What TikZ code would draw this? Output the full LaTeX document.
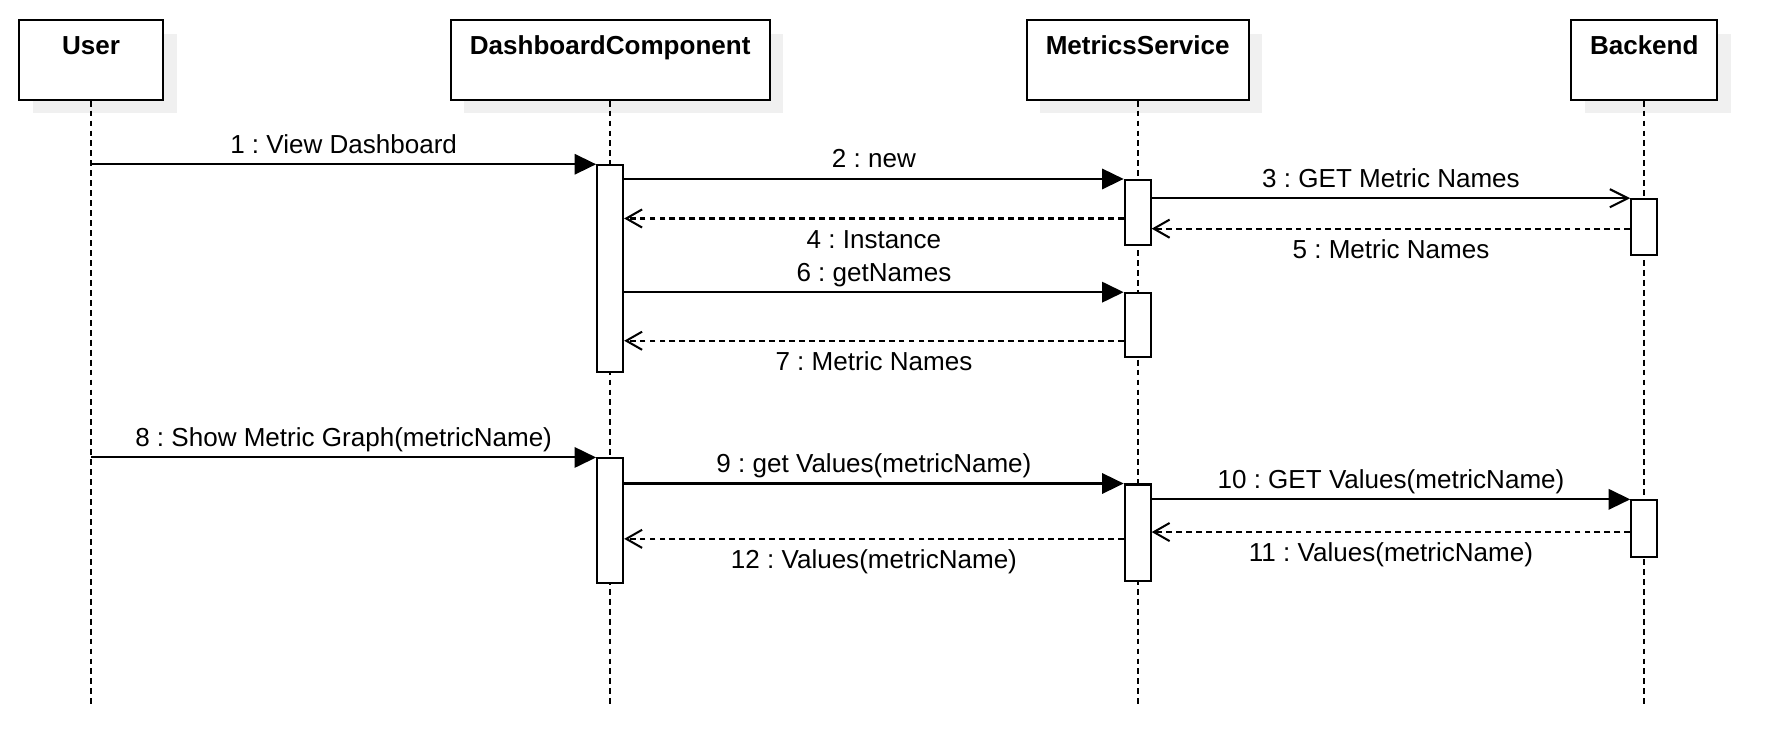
\documentclass[tikz,border=0pt]{standalone}
\usepackage{fontspec}
\setmainfont{Liberation Sans}
\usetikzlibrary{arrows.meta,positioning}
\frenchspacing

\tikzset{
  actor/.style={draw,fill=white,line width=.9pt,minimum height=35pt,inner sep=0pt,
    preaction={fill=black!6,transform canvas={shift={(6pt,-6pt)}}}},
  title/.style={font=\fontsize{11.5}{13.8}\selectfont\bfseries,inner sep=0pt,text height=8.5pt,text depth=2.5pt},
  lifeline/.style={line width=.9pt,dash pattern=on 2.6pt off 1.8pt},
  act/.style={draw,fill=white,line width=.9pt,minimum width=11.5pt,inner sep=0pt},
  call/.style={line width=.9pt,-{Triangle[length=9.5pt,width=9pt]}},
  callopen/.style={line width=.9pt,-{Straight Barb[length=8pt,width=8pt]}},
  reply/.style={line width=.9pt,dash pattern=on 2.6pt off 1.8pt,-{Straight Barb[length=7pt,width=8pt]}},
  lblup/.style={midway,above=1.9pt,inner sep=0pt,text height=8.5pt,text depth=2.5pt},
  lbldown/.style={midway,below=4.1pt,inner sep=0pt,text height=8.5pt,text depth=2.5pt}
}

\begin{document}
\begin{tikzpicture}[x=0.5pt,y=-0.5pt,font=\fontsize{11.5}{13.8}\selectfont]
  \useasboundingbox (0,0) rectangle (1568,659);

  % participants
  \foreach \n/\x/\w/\t in {user/80.5/63.5/User,dash/539/141/DashboardComponent,
                           metr/1005/98/MetricsService,back/1452.5/64.5/Backend}{
    \node[actor,minimum width=\w pt] (\n) at (\x,53) {};
    \node[title,below=7pt of \n.north] (\n-t) {\t};
  }
  \foreach \n in {user,dash,metr,back}
    \draw[lifeline] (\n.south) -- (\n.south |- 0,625);

  % activations
  \node[act,minimum height=91.5pt] (a1) at (539,237.5) {};
  \node[act,minimum height=28.5pt] (m1) at (1005,187.5) {};
  \node[act,minimum height=24.5pt] (b1) at (1452.5,200.5) {};
  \node[act,minimum height=28pt] (m2) at (1005,287) {};
  \node[act,minimum height=55pt] (a2) at (539,460) {};
  \node[act,minimum height=42.5pt] (m3) at (1005,470.5) {};
  \node[act,minimum height=25pt] (b2) at (1452.5,467) {};

  % messages
  \draw[call] (user.south |- a1.north) -- (a1.north west) node[lblup] {1 : View Dashboard};
  \draw[call] (a1.east |- m1.north) -- (m1.north west) node[lblup] {2 : new};
  \draw[callopen] (m1.east |- b1.north) -- (b1.north west) node[lblup] {3 : GET Metric Names};
  \draw[reply] (m1.west |- 0,193) -- (a1.east |- 0,193) node[lbldown] {4 : Instance};
  \draw[reply] (b1.west |- 0,202) -- (m1.east |- 0,202) node[lbldown] {5 : Metric Names};
  \draw[call] (a1.east |- m2.north) -- (m2.north west) node[lblup] {6 : getNames};
  \draw[reply] (m2.west |- 0,301) -- (a1.east |- 0,301) node[lbldown] {7 : Metric Names};

  \draw[call] (user.south |- a2.north) -- (a2.north west) node[lblup] {8 : Show Metric Graph(metricName)};
  \draw[call] (a2.east |- m3.north) -- (m3.north west) node[lblup] {9 : get Values(metricName)};
  \draw[call] (m3.east |- b2.north) -- (b2.north west) node[lblup] {10 : GET Values(metricName)};
  \draw[reply] (b2.west |- 0,470) -- (m3.east |- 0,470) node[lbldown] {11 : Values(metricName)};
  \draw[reply] (m3.west |- 0,476) -- (a2.east |- 0,476) node[lbldown] {12 : Values(metricName)};
\end{tikzpicture}
\end{document}
